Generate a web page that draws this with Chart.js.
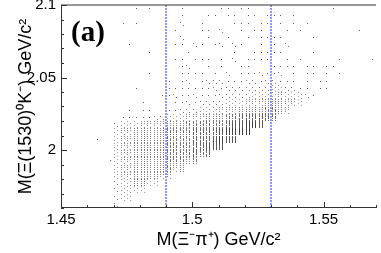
<!DOCTYPE html>
<html>
<head>
<meta charset="utf-8">
<title>Xi pi+ vs Xi(1530)0 K-</title>
<script src="https://cdn.jsdelivr.net/npm/chart.js"></script>
<style>
    html, body { margin: 0; padding: 0; background: white; }
    #plot { display: block; }
</style>
</head>
<body>
<canvas id="plot" width="381" height="253"></canvas>
<script>
    // axis ranges and labelled ticks (GeV/c^2)
    const xRange = [1.45, 1.57];
    const yRange = [1.96, 2.1];
    const xTickLabels = [1.45, 1.5, 1.55];
    const yTickLabels = [2, 2.05, 2.1];
    const cutLines = [1.49, 1.53];

    // bin centres of the density grid
    const xBins = [1.46125, 1.46375, 1.46625, 1.46875, 1.47125, 1.47375, 1.47625, 1.47875,
        1.48125, 1.48375, 1.48625, 1.48875, 1.49125, 1.49375, 1.49625, 1.49875,
        1.50125, 1.50375, 1.50625, 1.50875, 1.51125, 1.51375, 1.51625, 1.51875,
        1.52125, 1.52375, 1.52625, 1.52875, 1.53125, 1.53375, 1.53625, 1.53875,
        1.54125, 1.54375, 1.54625, 1.54875, 1.55125, 1.55375, 1.55625, 1.55875,
        1.56125, 1.56375, 1.56625, 1.56875];
    const yBins = [1.9625, 1.9675, 1.9725, 1.9775, 1.9825, 1.9875, 1.9925, 1.9975,
        2.0025, 2.0075, 2.0125, 2.0175, 2.0225, 2.0275, 2.0325, 2.0375,
        2.0425, 2.0475, 2.0525, 2.0575, 2.0625, 2.0675, 2.0725, 2.0775,
        2.0825, 2.0875, 2.0925, 2.0975];

    // event density per cell (0-9), top row first, one char per x bin
    const density = [
        ".... ...1 .1.. ..1. .... 11.1 1... .... .... .1.. ....",
        ".... .... .... ..1. ..11 .11. 11.1 11.1 .... .... ....",
        ".... .1.1 .... ..2. .1.. ..11 1.11 .1.1 .1.. .... ....",
        ".... .... .... .1.. .11. 2..1 .11. ..1. 1... .... .1..",
        ".... .... .... ..2. ..1. .1.. 1.11 11.. ..1. .... ....",
        ".... ..1. .... .11. 21.1 2.21 ..1. 1.2. .... .... ....",
        ".... .... .1.. ...1 .... ..1. .111 11.. ..1. .... ....",
        ".... .... .... .11. 111. 1.2. 1111 ..1. 1... ..1. ...1",
        ".... .... .... ..12 ..1. 1..1 1... 1111 .11. 11.. ....",
        ".... .... .1.. ..11 11.1 .2.1 1121 12.1 .11. 1.1. ....",
        ".... .... .... 1.12 .122 2111 2212 2111 .1.1 1... ....",
        ".... ...1 .... 1111 1112 1222 2222 3322 11.1 1... ....",
        ".... .... ...1 1211 2111 2222 2333 3433 321. .... ....",
        ".... .... 1... .112 1222 2333 4445 5544 3... .... ....",
        ".... ..1. 11.. 1122 2333 4445 5556 654. .... .... ....",
        ".... .111 1122 3334 4455 5667 7777 6... .... .... ....",
        ".... 2333 4444 5556 6666 6788 998. .... .... .... ....",
        ".... 3445 5555 6666 7777 8999 9... .... .... .... ....",
        ".1.. 3445 5555 6666 7778 988. .... .... .... .... ....",
        ".... 3445 5555 6666 7788 8... .... .... .... .... ....",
        ".... 3445 5555 6666 767. .... .... .... .... .... ....",
        "...1 3445 5555 6665 6... .... .... .... .... .... ....",
        ".... 3445 5555 645. .... .... .... .... .... .... ....",
        ".... 3445 5554 4... .... .... .... .... .... .... ....",
        ".... 2335 533. .... .... .... .... .... .... .... ....",
        ".... 2333 3... .... .... .... .... .... .... .... ....",
        ".... 233. .... .... .... .... .... .... .... .... ....",
        ".... 2... .... .... .... .... .... .... .... .... ...."
    ];

    const cells = [];
    density.forEach((row, r) => {
        const j = yBins.length - 1 - r;
        const s = row.replace(/ /g, '');
        for (let k = 0; k < s.length && k < xBins.length; k++) {
            const d = parseInt(s[k], 10);
            if (d > 0) cells.push({ x: xBins[k], y: yBins[j], d: d });
        }
    });

    // small dotted sprite for each density, like the ROOT scatter texture
    function makeDots(d) {
        const c = document.createElement('canvas');
        c.width = 7;
        c.height = 7;
        const g = c.getContext('2d');
        if (d === 1) {
            g.fillStyle = 'rgba(0,0,0,0.65)';
            g.fillRect(3, 3, 1, 1);
            return c;
        }
        if (d === 2) {
            g.fillStyle = 'rgba(0,0,0,0.55)';
            g.fillRect(1, 2, 1, 1);
            g.fillRect(4, 5, 1, 1);
            return c;
        }
        const n = Math.min(7, d - 1);
        const a = [0.4, 0.45, 0.5, 0.55, 0.6, 0.66, 0.74][d - 3];
        g.fillStyle = 'rgba(0,0,0,' + a + ')';
        const colA = [0, 4, 2, 6, 1, 5, 3];
        const colB = [2, 6, 0, 4, 3, 1, 5];
        for (let i = 0; i < n; i++) {
            g.fillRect(1, colA[i], 1, 1);
            g.fillRect(4, colB[i], 1, 1);
        }
        return c;
    }
    const dots = [];
    for (let d = 0; d <= 9; d++) dots.push(d ? makeDots(d) : null);

    const isLabelled = (list, v) => list.some(t => Math.abs(t - v) < 1e-6);
    const labelFor = (list, v) => {
        const t = list.find(t => Math.abs(t - v) < 1e-6);
        return t === undefined ? '' : String(t);
    };

    const framePlugin = {
        id: 'frame',
        beforeDatasetsDraw(chart) {
            chart.ctx.imageSmoothingEnabled = false;
        },
        afterDatasetsDraw(chart) {
            const { ctx, chartArea: a, scales } = chart;
            ctx.imageSmoothingEnabled = true;
            ctx.save();
            ctx.lineWidth = 1;
            ctx.strokeStyle = '#333';
            ctx.beginPath();
            ctx.moveTo(a.left, a.top);
            ctx.lineTo(a.right, a.top);
            ctx.moveTo(a.left + 0.5, a.top);
            ctx.lineTo(a.left + 0.5, a.bottom);
            ctx.moveTo(a.left, a.bottom - 0.5);
            ctx.lineTo(a.right, a.bottom - 0.5);
            scales.x.ticks.forEach(t => {
                const px = Math.round(scales.x.getPixelForValue(t.value)) + 0.5;
                const len = isLabelled(xTickLabels, t.value) ? 6 : 3;
                ctx.moveTo(px, a.bottom);
                ctx.lineTo(px, a.bottom - len);
            });
            scales.y.ticks.forEach(t => {
                const py = Math.round(scales.y.getPixelForValue(t.value)) + 0.5;
                const len = isLabelled(yTickLabels, t.value) ? 6 : 3;
                ctx.moveTo(a.left, py);
                ctx.lineTo(a.left + len, py);
            });
            ctx.stroke();
            ctx.fillStyle = '#000';
            ctx.font = 'bold 29px "Liberation Serif"';
            ctx.textBaseline = 'alphabetic';
            ctx.fillText('(a)', 71, 41);
            ctx.restore();
        }
    };

    const tickFont = { family: 'Liberation Sans', size: 15 };
    const titleFont = { family: 'Liberation Sans', size: 18 };

    new Chart(document.getElementById('plot').getContext('2d'), {
        type: 'scatter',
        data: {
            datasets: [
                ...cutLines.map(x => ({
                    data: [{ x: x, y: yRange[0] }, { x: x, y: yRange[1] }],
                    showLine: true,
                    borderColor: '#2b2bff',
                    borderWidth: 1,
                    borderDash: [2, 1],
                    pointRadius: 0,
                    order: 0
                })),
                {
                    data: cells,
                    pointStyle: c => dots[(c.raw && c.raw.d) || 1],
                    pointRadius: 3,
                    clip: 0,
                    order: 1
                }
            ]
        },
        options: {
            responsive: false,
            animation: false,
            events: [],
            layout: { padding: { top: 4, right: 0, bottom: 0, left: 0 } },
            plugins: { legend: { display: false }, tooltip: { enabled: false } },
            scales: {
                x: {
                    type: 'linear',
                    min: xRange[0],
                    max: xRange[1],
                    grid: { display: false, drawTicks: false },
                    border: { display: false },
                    ticks: {
                        stepSize: 0.01,
                        autoSkip: false,
                        maxRotation: 0,
                        padding: 3,
                        color: '#000',
                        font: tickFont,
                        callback: v => labelFor(xTickLabels, v)
                    },
                    title: {
                        display: true,
                        text: 'M(Ξ⁻π⁺) GeV/c²',
                        color: '#000',
                        font: titleFont,
                        padding: { top: 0, bottom: 2 }
                    },
                    afterFit: s => { s.height = 45; s.paddingLeft = 0; s.paddingRight = 0; }
                },
                y: {
                    type: 'linear',
                    min: yRange[0],
                    max: yRange[1],
                    grid: { display: false, drawTicks: false },
                    border: { display: false },
                    ticks: {
                        stepSize: 0.01,
                        autoSkip: false,
                        padding: 5,
                        color: '#000',
                        font: tickFont,
                        callback: v => labelFor(yTickLabels, v)
                    },
                    title: {
                        display: true,
                        text: 'M(Ξ(1530)⁰K⁻) GeV/c²',
                        color: '#000',
                        font: titleFont,
                        padding: { top: 15, bottom: 0 }
                    },
                    afterFit: s => { s.width = 61; s.paddingTop = 0; s.paddingBottom = 0; }
                }
            }
        },
        plugins: [framePlugin]
    });
</script>
</body>
</html>
